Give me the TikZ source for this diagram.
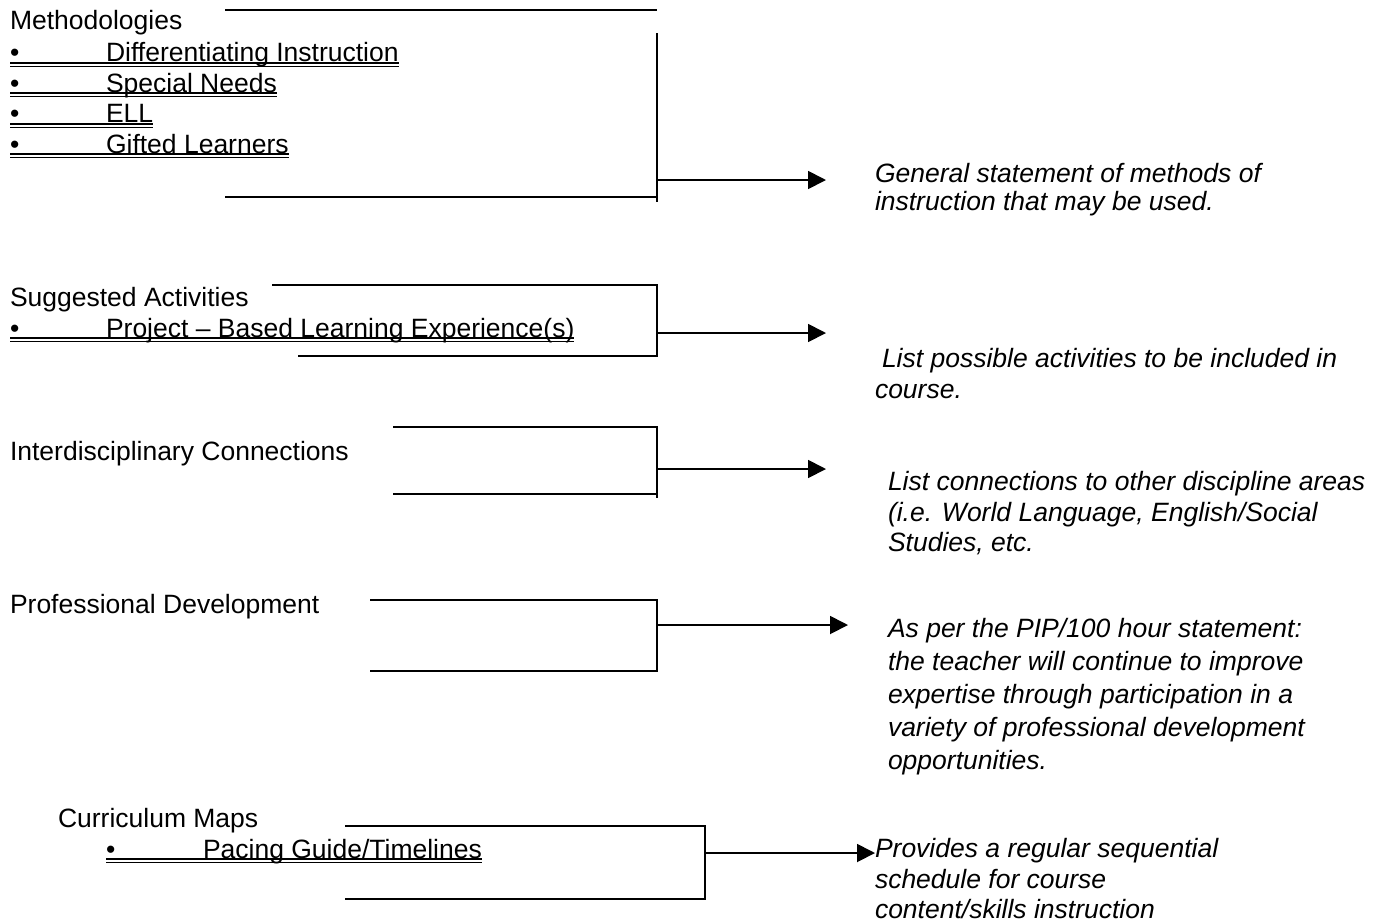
\documentclass[tikz,border=0pt]{standalone}
\usepackage{fontspec}
\setmainfont{Liberation Sans}
\usetikzlibrary{arrows.meta}
\newcommand{\firstln}{\rule{0pt}{21pt}}
\begin{document}
\begin{tikzpicture}[x=1pt,y=-1pt,
  every node/.style={inner sep=0pt, outer sep=0pt, font=\fontsize{26.5}{30.5}\selectfont},
  lbl/.style={anchor=base west},
  note/.style={anchor=north west, align=left, font=\fontsize{26.5}{30.5}\selectfont\itshape},
  brk/.style={line width=1.8pt},
  arr/.style={line width=1.8pt, -{Triangle[length=18pt,width=18pt]}},
  ulA/.style={line width=2pt},
  ulB/.style={line width=1.3pt}]
\useasboundingbox (0,0) rectangle (1388,922);

% ---------- Methodologies ----------
\node[lbl] (mh) at (10,29) {Methodologies};
\node[lbl] (m1) at (10,61.5) {\makebox[96pt][l]{•}Differentiating Instruction};
\node[lbl] (m2) at (10,92) {\makebox[96pt][l]{•}Special Needs};
\node[lbl] (m3) at (10,122.5) {\makebox[96pt][l]{•}ELL};
\node[lbl] (m4) at (10,153) {\makebox[96pt][l]{•}Gifted Learners};
\foreach \n in {m1,m2,m3,m4}{
  \draw[ulA] ([yshift=-1.2pt]\n.base west) -- ([yshift=-1.2pt]\n.base east);
  \draw[ulB] ([yshift=-4.8pt]\n.base west) -- ([yshift=-4.8pt]\n.base east);
}
\coordinate (mtl) at (225,10);  \coordinate (mtr) at (657,10);
\coordinate (mvt) at (657,33);  \coordinate (mvb) at (657,202);
\coordinate (mbl) at (225,197); \coordinate (mbr) at (657,197);
\coordinate (ma) at (657,180);  \coordinate (mae) at (826,180);
\draw[brk] (mtl) -- (mtr);
\draw[brk] (mvt) -- (mvb);
\draw[brk] (mbl) -- (mbr);
\draw[arr] (ma) -- (mae);
\node[note, font=\fontsize{26.5}{28}\selectfont\itshape] (n1) at (875,161.5) {\firstln General statement of methods of\\instruction that may be used.};

% ---------- Suggested Activities ----------
\node[lbl] (sh) at (10,306.5) {Suggested Activities};
\node[lbl] (s1) at (10,337) {\makebox[96pt][l]{•}Project – Based Learning Experience(s)};
\draw[ulA] ([yshift=-1.2pt]s1.base west) -- ([yshift=-1.2pt]s1.base east);
\draw[ulB] ([yshift=-4.8pt]s1.base west) -- ([yshift=-4.8pt]s1.base east);
\coordinate (stl) at (272,285); \coordinate (str) at (657,285);
\coordinate (sbl) at (298,356); \coordinate (sbr) at (657,356);
\coordinate (sa) at (657,333);  \coordinate (sae) at (826,333);
\draw[brk] (stl) -- (str) -- (sbr) -- (sbl);
\draw[arr] (sa) -- (sae);
\node[note] (n2) at (875,346.5) {\firstln\hspace{7pt}List possible activities to be included in\\course.};

% ---------- Interdisciplinary Connections ----------
\node[lbl] (ih) at (10,460.5) {Interdisciplinary Connections};
\coordinate (itl) at (393,427); \coordinate (itr) at (657,427);
\coordinate (ivb) at (657,498);
\coordinate (ibl) at (393,494); \coordinate (ibr) at (657,494);
\coordinate (ia) at (657,469);  \coordinate (iae) at (826,469);
\draw[brk] (itl) -- (itr) -- (ivb);
\draw[brk] (ibl) -- (ibr);
\draw[arr] (ia) -- (iae);
\node[note] (n3) at (888,469.5) {\firstln List connections to other discipline areas\\(i.e. World Language, English/Social\\Studies, etc.};

% ---------- Professional Development ----------
\node[lbl] (ph) at (10,613.5) {Professional Development};
\coordinate (ptl) at (370,600); \coordinate (ptr) at (657,600);
\coordinate (pbl) at (370,671); \coordinate (pbr) at (657,671);
\coordinate (pa) at (657,625);  \coordinate (pae) at (848,625);
\draw[brk] (ptl) -- (ptr) -- (pbr) -- (pbl);
\draw[arr] (pa) -- (pae);
\node[note, font=\fontsize{26.5}{33}\selectfont\itshape] (n4) at (888,616.5) {\firstln As per the PIP/100 hour statement:\\the teacher will continue to improve\\expertise through participation in a\\variety of professional development\\opportunities.};

% ---------- Curriculum Maps ----------
\node[lbl] (ch) at (58,827.5) {Curriculum Maps};
\node[lbl] (c1) at (106,858) {\makebox[97pt][l]{•}Pacing Guide/Timelines};
\draw[ulA] ([yshift=-1.2pt]c1.base west) -- ([yshift=-1.2pt]c1.base east);
\draw[ulB] ([yshift=-4.8pt]c1.base west) -- ([yshift=-4.8pt]c1.base east);
\coordinate (ctl) at (345,826); \coordinate (ctr) at (705,826);
\coordinate (cbl) at (345,899); \coordinate (cbr) at (705,899);
\coordinate (ca) at (705,853);
\draw[brk] (ctl) -- (ctr) -- (cbr) -- (cbl);
\node[note] (n5) at (875,836.5) {\firstln Provides a regular sequential\\schedule for course\\content/skills instruction};
\draw[arr] (ca) -- (ca -| n5.west);
\end{tikzpicture}
\end{document}
